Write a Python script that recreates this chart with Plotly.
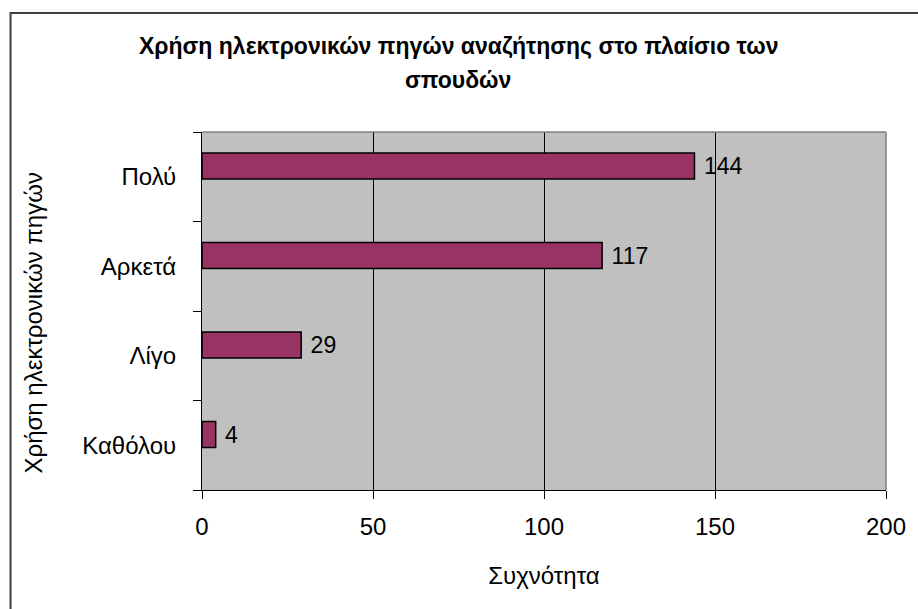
import plotly.graph_objects as go

categories = ["Καθόλου", "Λίγο", "Αρκετά", "Πολύ"]
values = [4, 29, 117, 144]
x_ticks = [0, 50, 100, 150, 200]

title_line1 = "Χρήση ηλεκτρονικών πηγών αναζήτησης στο πλαίσιο των"
title_line2 = "σπουδών"
x_title = "Συχνότητα"
y_title = "Χρήση ηλεκτρονικών πηγών"

FONT = "Liberation Sans, Arial, sans-serif"
FS = 24

fig = go.Figure()
fig.add_trace(go.Bar(
    y=categories, x=values, orientation="h",
    marker=dict(color="#993366", line=dict(color="black", width=1.5)),
    width=0.29, offset=-0.025,
    text=[" " + str(v) for v in values], textposition="outside",
    textfont=dict(family=FONT, size=FS, color="black"),
    cliponaxis=False,
))

W, H = 918, 609
L, R, T, B = 202, 30, 132, 119
pw, ph = W - L - R, H - T - B

def px(x):
    return (x - L) / pw

def py(y):
    return (H - B - y) / ph

fig.update_layout(
    width=W, height=H,
    margin=dict(l=L, r=R, t=T, b=B),
    paper_bgcolor="white", plot_bgcolor="#C0C0C0",
    showlegend=False,
    font=dict(family=FONT, size=FS, color="black"),
    xaxis=dict(
        range=[0, 200], tickvals=x_ticks, ticks="outside", ticklen=8,
        tickcolor="black", showline=True, linecolor="black", linewidth=1,
        showgrid=True, gridcolor="black", gridwidth=1, zeroline=False,
        ticklabelstandoff=7,
        tickfont=dict(size=FS),
        title=dict(text=x_title, font=dict(size=FS), standoff=28),
    ),
    yaxis=dict(
        categoryorder="array", categoryarray=categories,
        range=[-0.5, 3.5], ticks="outside", ticklen=8, tickcolor="black",
        tickson="boundaries", showline=True, linecolor="black", linewidth=1,
        showgrid=False, zeroline=False, ticklabelstandoff=20,
        tickfont=dict(size=FS),
        title=dict(text=""),
    ),
    annotations=[
        dict(text="<b>" + title_line1 + "</b>", x=px(459), y=py(46),
             xref="paper", yref="paper", showarrow=False,
             xanchor="center", yanchor="middle", font=dict(size=23)),
        dict(text="<b>" + title_line2 + "</b>", x=px(459), y=py(80),
             xref="paper", yref="paper", showarrow=False,
             xanchor="center", yanchor="middle", font=dict(size=23)),
        dict(text=y_title, x=px(33), y=py(323), textangle=-90,
             xref="paper", yref="paper", showarrow=False,
             xanchor="center", yanchor="middle", font=dict(size=FS)),
    ],
    shapes=[
        dict(type="line", xref="paper", yref="paper", x0=0, x1=1, y0=1, y1=1,
             line=dict(color="#808080", width=1.5), layer="above"),
        dict(type="line", xref="paper", yref="paper", x0=1, x1=1, y0=0, y1=1,
             line=dict(color="#808080", width=1.5), layer="above"),
        dict(type="rect", xref="paper", yref="paper",
             x0=px(10), x1=px(930), y0=py(621), y1=py(13),
             line=dict(color="#404040", width=2), layer="below"),
    ],
)

fig.write_html("out.html", config={"displayModeBar": False},
               post_script="document.body.style.margin='0';")
